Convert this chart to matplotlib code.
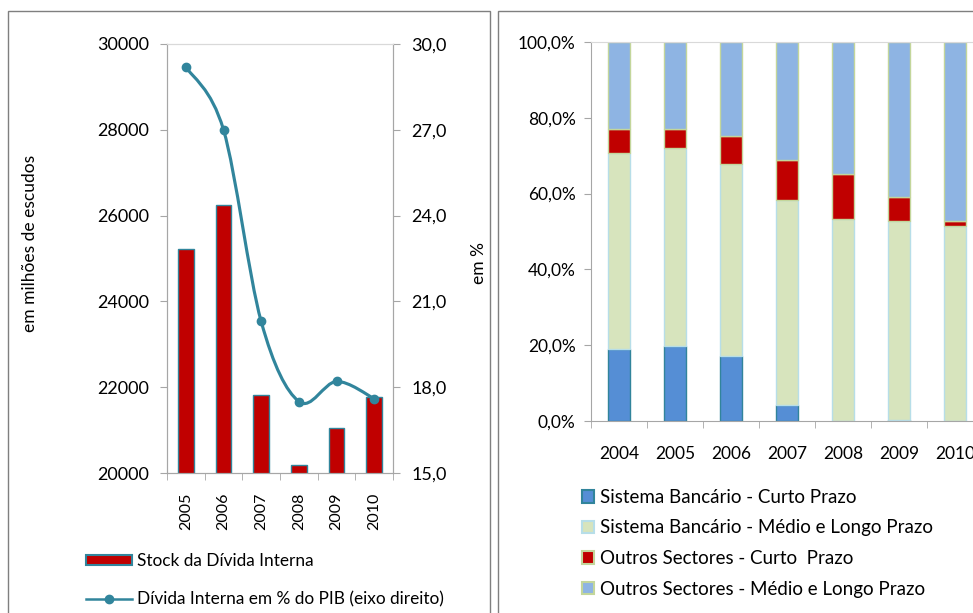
import matplotlib
matplotlib.use("Agg")
import matplotlib.pyplot as plt
from matplotlib.path import Path
from matplotlib.patches import PathPatch, Rectangle
from matplotlib.lines import Line2D
from matplotlib.ticker import FixedLocator, FuncFormatter
import numpy as np

plt.rcParams['font.family'] = ['Lato', 'DejaVu Sans']

# ---- Left chart data ----
years_left = ["2005", "2006", "2007", "2008", "2009", "2010"]
stock_divida = [25230, 26250, 21810, 20180, 21040, 21770]
divida_pct_pib = [29.2, 27.0, 20.3, 17.5, 18.2, 17.6]

# ---- Right chart data (percent shares) ----
years_right = ["2004", "2005", "2006", "2007", "2008", "2009", "2010"]
sb_curto = [18.9, 19.9, 17.2, 4.1, 0.0, 0.2, 0.0]
sb_medio_longo = [51.7, 52.0, 50.6, 54.2, 53.4, 52.7, 51.5]
os_curto = [6.5, 5.1, 7.4, 10.6, 11.9, 6.1, 1.2]
os_medio_longo = [22.9, 23.0, 24.8, 31.1, 34.7, 41.0, 47.3]

labels_right = ["Sistema Bancário - Curto Prazo",
                "Sistema Bancário - Médio e Longo Prazo",
                "Outros Sectores - Curto  Prazo",
                "Outros Sectores - Médio e Longo Prazo"]

W, H = 973, 613
fig = plt.figure(figsize=(W / 100, H / 100), dpi=100)

def fx(px):
    return px / W

def fy(py):
    return 1 - py / H

# panel frames
fig.patches.append(Rectangle((fx(8), fy(640)), fx(490 - 8), fy(11) - fy(640),
                             transform=fig.transFigure, fill=False,
                             edgecolor="#7f7f7f", linewidth=1.0))
fig.patches.append(Rectangle((fx(498), fy(640)), fx(1000 - 498), fy(11) - fy(640),
                             transform=fig.transFigure, fill=False,
                             edgecolor="#7f7f7f", linewidth=1.0))

grey = "#a6a6a6"
teal = "#31859c"
red = "#c00000"

# ---------------- Left chart ----------------
axL = fig.add_axes([fx(167), fy(473), fx(393 - 167), fy(44) - fy(473)])
x = np.arange(len(years_left))
axL.bar(x, stock_divida, width=0.42, bottom=0, color=red, edgecolor=teal,
        linewidth=1.0, zorder=2)
axL.set_ylim(20000, 30000)
axL.set_xlim(-0.5, len(years_left) - 0.5)
axL.set_yticks(np.arange(20000, 30001, 2000))
axL.set_xticks(x)
axL.set_xticklabels(years_left, rotation=90, fontsize=11.5)
axL.xaxis.set_minor_locator(FixedLocator(np.arange(-0.5, len(years_left), 1.0)))
axL.tick_params(axis='x', which='major', length=0, pad=14)
axL.tick_params(axis='x', which='minor', length=5, color=grey, direction='out')
axL.tick_params(axis='y', length=5, color=grey, direction='out', labelsize=13, pad=8)
for s in axL.spines.values():
    s.set_color(grey)
axL.spines['top'].set_color("#d9d9d9")
axL.set_ylabel("em milhões de escudos", fontsize=12.5)
axL.yaxis.set_label_coords(-0.57, 0.535)

axR = axL.twinx()
axR.set_ylim(15, 30)
axR.set_yticks(np.arange(15, 30.1, 3))
axR.yaxis.set_major_formatter(FuncFormatter(lambda v, p: f"{v:.1f}".replace(".", ",")))
axR.tick_params(axis='y', length=5, color=grey, direction='out', labelsize=13, pad=8)
for s in axR.spines.values():
    s.set_color(grey)
axR.spines['top'].set_color("#d9d9d9")
axR.set_ylabel("em %", fontsize=12.5)
axR.yaxis.set_label_coords(1.345, 0.49)

# smoothed line (Bezier through data points)
pts = np.column_stack([x, divida_pct_pib]).astype(float)
ext = np.vstack([pts[0], pts, pts[-1]])
verts = [tuple(pts[0])]
codes = [Path.MOVETO]
for i in range(len(pts) - 1):
    p0, p1, p2, p3 = ext[i], ext[i + 1], ext[i + 2], ext[i + 3]
    c1 = p1 + (p2 - p0) / 6.0
    c2 = p2 - (p3 - p1) / 6.0
    verts += [tuple(c1), tuple(c2), tuple(p2)]
    codes += [Path.CURVE4] * 3
axR.add_patch(PathPatch(Path(verts, codes), facecolor='none', edgecolor=teal,
                        linewidth=2.25, zorder=3))
axR.plot(x, divida_pct_pib, linestyle='none', marker='o', markersize=6,
         color=teal, zorder=4)

handles_left = [Rectangle((0, 0), 1, 1, facecolor=red, edgecolor=teal, linewidth=1.5),
                Line2D([], [], color=teal, linewidth=1.8, marker='o', markersize=6)]
fig.legend(handles_left,
           ["Stock da Dívida Interna", "Dívida Interna em % do PIB (eixo direito)"],
           loc='upper left', bbox_to_anchor=(fx(86), fy(553)), frameon=False,
           fontsize=12.4, handlelength=2.65, handleheight=0.5, handletextpad=0.3,
           labelspacing=1.3, borderaxespad=0, borderpad=0)

# ---------------- Right chart ----------------
ax2 = fig.add_axes([fx(591), fy(421), fx(983 - 591), fy(42) - fy(421)])
xr = np.arange(len(years_right))
series = [sb_curto, sb_medio_longo, os_curto, os_medio_longo]
fills = ["#558ed5", "#d7e4bd", "#c00000", "#8eb4e3"]
edges = ["#31849b", "#b7dee8", "#c3d69b", "#c3d69b"]
bottom = np.zeros(len(years_right))
for vals, fc, ec in zip(series, fills, edges):
    ax2.bar(xr, vals, width=0.41, bottom=bottom, color=fc,
            edgecolor=ec, linewidth=1.0, zorder=2)
    bottom += np.array(vals)
ax2.set_ylim(0, 100)
ax2.set_xlim(-0.5, len(years_right) - 0.5)
ax2.set_yticks(np.arange(0, 101, 20))
ax2.yaxis.set_major_formatter(FuncFormatter(lambda v, p: f"{v:.1f}".replace(".", ",") + "%"))
ax2.set_xticks(xr)
ax2.set_xticklabels(years_right, fontsize=12.5)
ax2.xaxis.set_minor_locator(FixedLocator(np.arange(-0.5, len(years_right), 1.0)))
ax2.tick_params(axis='x', which='major', length=0, pad=18)
ax2.tick_params(axis='x', which='minor', length=5, color=grey, direction='out')
ax2.tick_params(axis='y', length=5, color=grey, direction='out', labelsize=12.5, pad=6)
for s in ax2.spines.values():
    s.set_color(grey)
ax2.spines['top'].set_color("#d9d9d9")
ax2.spines['right'].set_visible(False)

handles_right = [Rectangle((0, 0), 1, 1, facecolor=fc, edgecolor=ec, linewidth=1.5)
                 for fc, ec in zip(fills, edges)]
fig.legend(handles_right, labels_right, loc='upper left',
           bbox_to_anchor=(fx(582), fy(489)), frameon=False, fontsize=13.5,
           handlelength=0.65, handleheight=0.65, handletextpad=0.3,
           labelspacing=0.72, borderaxespad=0, borderpad=0)

fig.savefig("out.png", dpi=100)
